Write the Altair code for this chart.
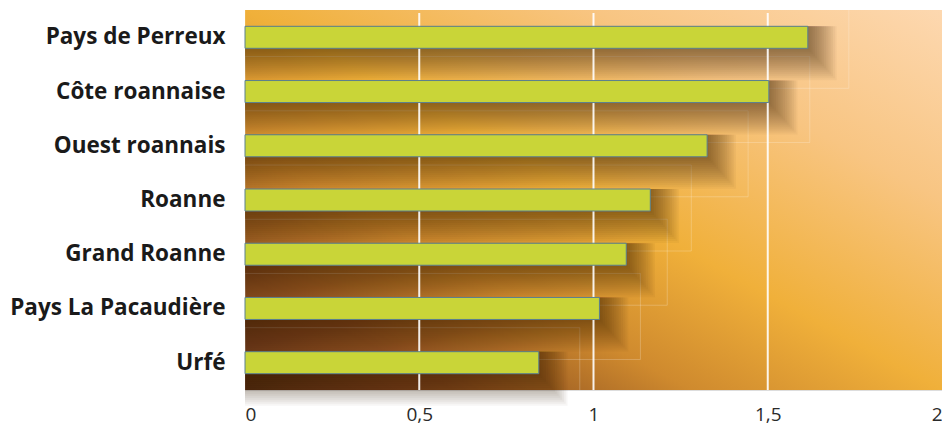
import altair as alt
import pandas as pd

categories = ["Pays de Perreux", "Côte roannaise", "Ouest roannais", "Roanne",
              "Grand Roanne", "Pays La Pacaudière", "Urfé"]
values = [1.615, 1.503, 1.326, 1.163, 1.094, 1.017, 0.843]
tick_values = [0, 0.5, 1, 1.5, 2]
grid_values = [0.5, 1, 1.5]

df = pd.DataFrame({"cat": categories, "val": values, "zero": [0] * len(values)})
grid_df = pd.DataFrame({"g": grid_values})
bg_df = pd.DataFrame({"lo": [tick_values[0]], "hi": [tick_values[-1]]})

W, H = 697, 380
FONT = "Open Sans"

xscale = alt.Scale(domain=[0, 2], nice=False, zero=True)
yscale = alt.Scale(paddingInner=0.593, paddingOuter=0.3)

x_axis = alt.Axis(values=tick_values, grid=False, domain=False, ticks=False,
                  title=None, labelFontSize=19, labelColor="#2a2a2a",
                  labelFont=FONT, labelPadding=15,
                  labelExpr="replace(toString(datum.value), '.', ',')")
y_enc = alt.Y("cat:N", sort=categories, scale=yscale,
              axis=alt.Axis(title=None, domain=False, ticks=False, labelFontSize=22.5,
                            labelFontWeight="bold", labelColor="#1a1a1a", labelFont=FONT,
                            labelPadding=20, labelLimit=400))

grad = alt.Gradient(
    gradient="linear", x1=0, y1=1, x2=1, y2=0,
    stops=[
        alt.GradientStop(offset=0.0, color="#5a2e14"),
        alt.GradientStop(offset=0.15, color="#8a4d20"),
        alt.GradientStop(offset=0.32, color="#cf8a2e"),
        alt.GradientStop(offset=0.5, color="#f0b03a"),
        alt.GradientStop(offset=0.75, color="#f8c582"),
        alt.GradientStop(offset=1.0, color="#fdd8b0"),
    ],
)

background = alt.Chart(bg_df).mark_rect(fill=grad).encode(
    x=alt.X("lo:Q", scale=xscale, axis=x_axis),
    x2="hi:Q",
    y=alt.value(0),
    y2=alt.value(H),
)

outlines = alt.Chart(df).mark_bar(
    height=86, yOffset=8, x2Offset=41, fillOpacity=0, stroke="#ffffff",
    strokeOpacity=0.22, strokeWidth=1, clip=True,
).encode(x=alt.X("zero:Q", scale=xscale), x2="val:Q", y=y_enc)

shadows = []
for k in range(16, 0, -1):
    shadows.append(
        alt.Chart(df).mark_bar(
            height=22 + 2.0 * k, yOffset=1.0 * k, x2Offset=1.8 * k,
            fill="#3a1c05", opacity=0.04,
        ).encode(x=alt.X("zero:Q", scale=xscale), x2="val:Q", y=y_enc)
    )

grid = alt.Chart(grid_df).mark_rule(color="#ffffff", strokeWidth=2, opacity=0.9).encode(
    x=alt.X("g:Q", scale=xscale), y=alt.value(3), y2=alt.value(H)
)

bars = alt.Chart(df).mark_bar(
    height=22, fill="#c9d538", stroke="#5a8090", strokeWidth=1
).encode(x=alt.X("zero:Q", scale=xscale), x2="val:Q", y=y_enc)

chart = alt.layer(background, outlines, *shadows, grid, bars).properties(
    width=W, height=H,
    autosize=alt.AutoSizeParams(type="none"),
    padding={"left": 237, "top": 2, "right": 0, "bottom": 40},
).configure_view(stroke=None).configure(background="#ffffff")

chart.save("out.html", embed_options={"renderer": "svg", "actions": False})
